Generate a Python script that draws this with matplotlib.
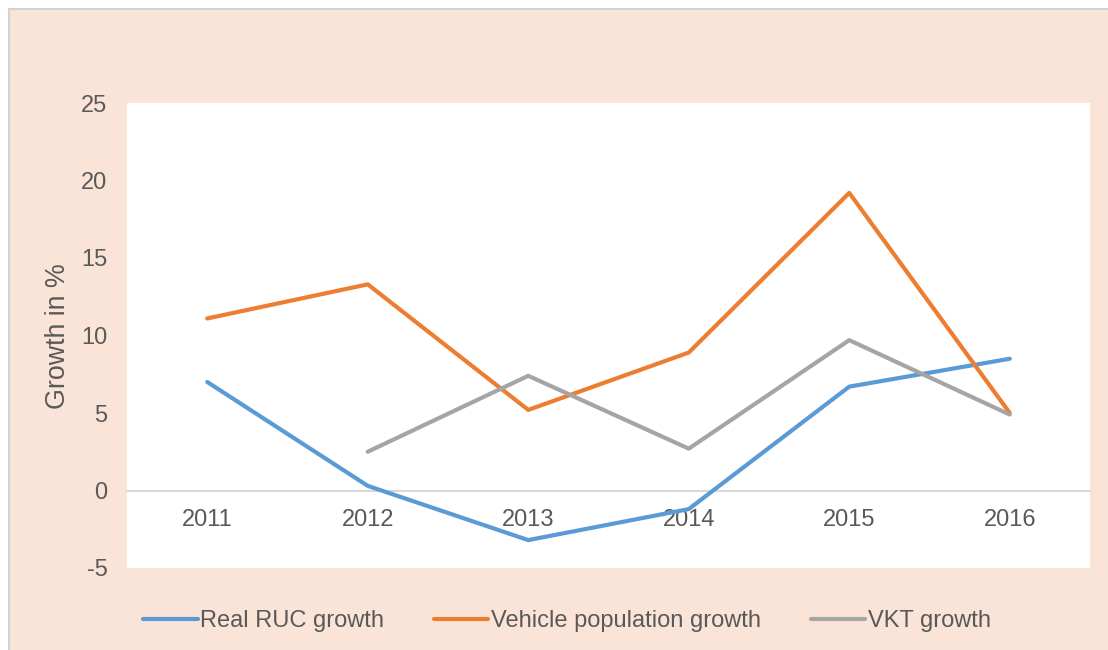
import matplotlib
matplotlib.use("Agg")
import matplotlib.pyplot as plt
from matplotlib.patches import Rectangle
from matplotlib.lines import Line2D
import numpy as np

years = ["2011", "2012", "2013", "2014", "2015", "2016"]
ruc_growth = [7.0, 0.3, -3.2, -1.2, 6.7, 8.5]
vehicle_growth = [11.1, 13.3, 5.2, 8.9, 19.2, 5.0]
vkt_growth = [np.nan, 2.5, 7.4, 2.7, 9.7, 4.9]
series_names = ["Real RUC growth", "Vehicle population growth", "VKT growth"]
colors = ["#5B9BD5", "#ED7D31", "#A5A5A5"]

plt.rcParams['font.family'] = ['Liberation Sans', 'DejaVu Sans']
txt = "#595959"

W, H = 1108, 650
fig = plt.figure(figsize=(W / 100, H / 100), dpi=100, facecolor="white")
fig.patches.append(Rectangle((9 / W, 0), 1 - 9 / W, 1 - 9 / H, transform=fig.transFigure,
                             facecolor="#FAE4D7", edgecolor="none", zorder=-10))
fig.lines.append(Line2D([8.5 / W, 8.5 / W], [0, 1 - 8.5 / H], transform=fig.transFigure,
                        color="#D0D3D6", lw=1.5, zorder=-5))
fig.lines.append(Line2D([8.5 / W, 1], [1 - 8.5 / H, 1 - 8.5 / H], transform=fig.transFigure,
                        color="#D0D3D6", lw=1.5, zorder=-5))

ax = fig.add_axes([127 / W, 1 - 568 / H, (1090 - 127) / W, (568 - 103) / H])
ax.set_zorder(5)
ax.set_facecolor("white")
x = np.arange(len(years))
for vals, name, c in zip([ruc_growth, vehicle_growth, vkt_growth], series_names, colors):
    ax.plot(x, vals, color=c, lw=3, label=name, solid_capstyle="round", solid_joinstyle="round", zorder=3)

ax.set_xlim(-0.5, len(years) - 0.5)
ax.set_ylim(-5, 25)
ax.set_yticks([-5, 0, 5, 10, 15, 20, 25])
ax.set_yticklabels(["-5", "0", "5", "10", "15", "20", "25"])
ax.set_xticks(x)
ax.set_xticklabels(years)
for s in ["top", "right", "left"]:
    ax.spines[s].set_visible(False)
ax.spines["bottom"].set_position(("data", 0))
ax.spines["bottom"].set_color("#D9D9D9")
ax.spines["bottom"].set_linewidth(1.5)
ax.spines["bottom"].set_zorder(1)
ax.tick_params(axis="x", length=0, pad=13, labelsize=17, labelcolor=txt)
ax.tick_params(axis="y", length=0, pad=14, labelsize=17, labelcolor=txt)

fig.text(58 / W, 1 - 336 / H, "Growth in %", rotation=90, ha="center", va="center",
         fontsize=19.3, color=txt)

leg = fig.legend(loc="center", bbox_to_anchor=(567 / W, 1 - 621 / H), ncol=3, frameon=False,
                 fontsize=17, handlelength=2.3, handletextpad=0.12, columnspacing=2.1)
for t in leg.get_texts():
    t.set_color(txt)

fig.savefig("out.png", dpi=100, facecolor=fig.get_facecolor())
